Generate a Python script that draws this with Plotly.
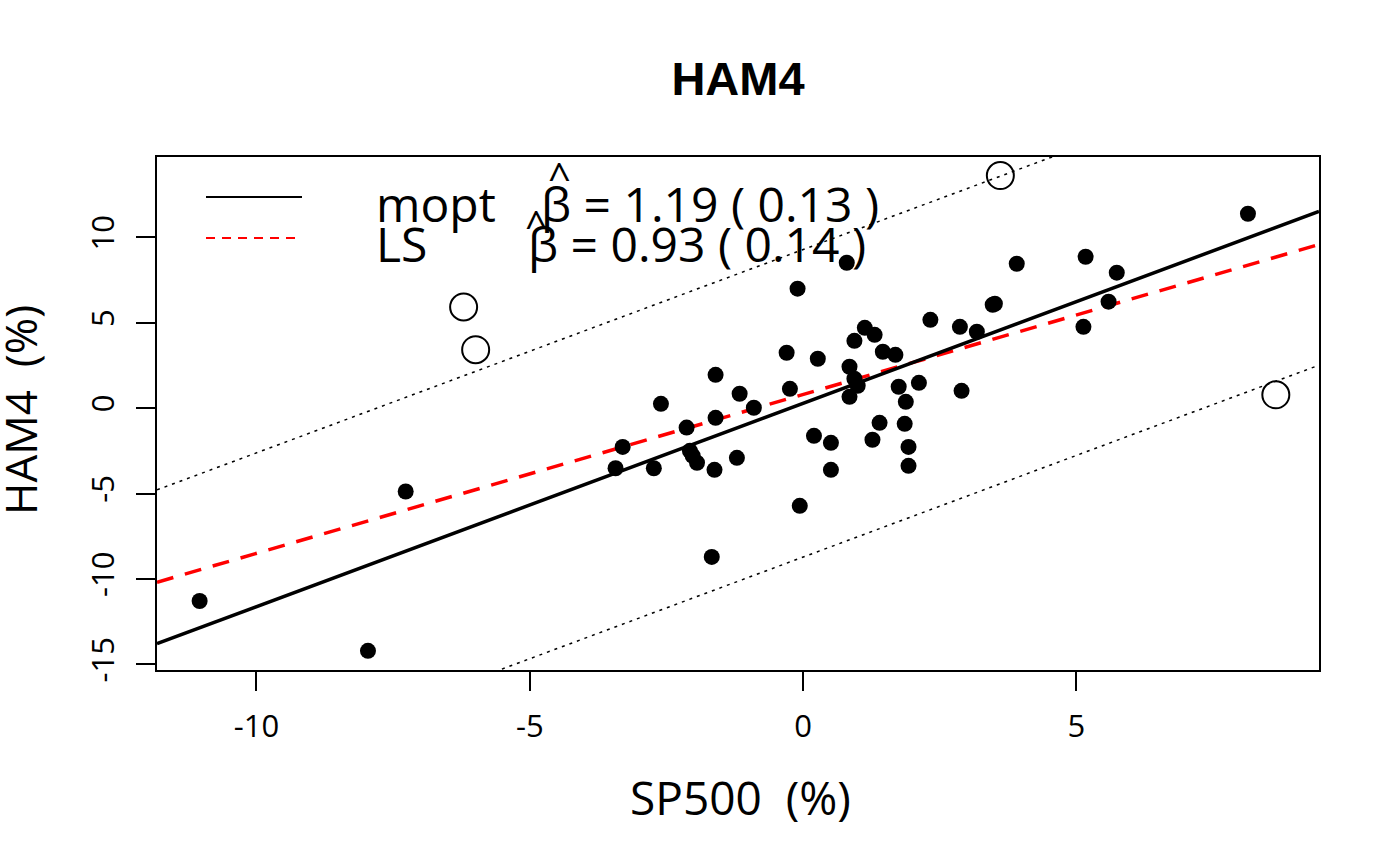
import plotly.graph_objects as go

# ---------------- data ----------------
sp500 = [-11.04, -7.96, -7.27, -3.43, -3.30, -2.60, -2.73, -2.13, -2.07, -2.02,
         -1.94, -1.62, -1.60, -1.60, -1.67, -1.16, -1.21, -0.90, -0.30, -0.24,
         -0.10, -0.06, 0.20, 0.27, 0.51, 0.51, 0.80, 0.85, 0.85, 0.94,
         1.00, 0.94, 1.13, 1.31, 1.46, 1.69, 1.27, 1.40, 1.75, 1.88,
         1.86, 1.93, 1.93, 2.12, 2.33, 2.90, 2.87, 3.18, 3.47, 3.51,
         3.91, 5.17, 5.74, 5.59, 5.13, 8.14]
ham4 = [-11.29, -14.21, -4.88, -3.52, -2.27, 0.25, -3.52, -1.14, -2.50, -2.79,
        -3.20, -3.61, -0.57, 1.95, -8.71, 0.84, -2.91, 0.02, 3.24, 1.13,
        6.99, -5.72, -1.62, 2.89, -2.03, -3.61, 8.51, 2.42, 0.66, 1.72,
        1.31, 3.94, 4.70, 4.29, 3.30, 3.12, -1.85, -0.86, 1.25, 0.37,
        -0.92, -2.27, -3.38, 1.48, 5.17, 1.01, 4.76, 4.47, 6.05, 6.11,
        8.45, 8.86, 7.93, 6.23, 4.76, 11.38]
out_sp500 = [-6.21, -5.99, 3.61, 8.65]
out_ham4 = [5.92, 3.42, 13.61, 0.78]

mopt_coef = [0.28, 1.19]    # intercept, slope
ls_coef = [0.80, 0.93]
band_half = 9.0

x_range = [-11.82, 9.44]
y_range = [-15.33, 14.70]
x_ticks = [-10, -5, 0, 5]
x_tick_labels = ["-10", "-5", "0", "5"]
y_ticks = [-15, -10, -5, 0, 5, 10]
y_tick_labels = ["-15", "-10", "-5", "0", "5", "10"]

legend_names = ["mopt", "LS"]
beta_text = ["β = 1.19 ( 0.13 )", "β = 0.93 ( 0.14 )"]

# ---------------- layout helpers ----------------
W, H = 1400, 866
L, R, T, B = 157, 81, 157, 196
PX0, PX1 = L, W - R
PY0, PY1 = T, H - B


def pxx(p):
    return (p - PX0) / (PX1 - PX0)


def pxy(p):
    return (PY1 - p) / (PY1 - PY0)


FONT = "Open Sans"
fig = go.Figure()

xl = list(x_range)


def line_y(coef, off=0.0):
    return [coef[0] + off + coef[1] * v for v in xl]


# dotted band lines
for off in (band_half, -band_half):
    fig.add_trace(go.Scatter(x=xl, y=line_y(mopt_coef, off), mode="lines",
                             line=dict(color="black", width=1.5, dash="3px,5px"),
                             hoverinfo="skip", showlegend=False))
# LS line
fig.add_trace(go.Scatter(x=xl, y=line_y(ls_coef), mode="lines",
                         line=dict(color="#FF0000", width=3.5, dash="17px,12px"),
                         showlegend=False))
# mopt line
fig.add_trace(go.Scatter(x=xl, y=line_y(mopt_coef), mode="lines",
                         line=dict(color="black", width=3.5), showlegend=False))
# points
fig.add_trace(go.Scatter(x=sp500, y=ham4, mode="markers",
                         marker=dict(color="black", size=16, line=dict(width=0)),
                         showlegend=False))
fig.add_trace(go.Scatter(x=out_sp500, y=out_ham4, mode="markers",
                         marker=dict(symbol="circle-open", color="black", size=27,
                                     line=dict(width=2, color="black")),
                         showlegend=False))

shapes = [
    dict(type="line", xref="paper", yref="paper", x0=pxx(206), x1=pxx(302),
         y0=pxy(197), y1=pxy(197), line=dict(color="black", width=2)),
    dict(type="line", xref="paper", yref="paper", x0=pxx(206), x1=pxx(302),
         y0=pxy(238), y1=pxy(238), line=dict(color="#FF0000", width=2, dash="9px,7px")),
]

LF = 48
annotations = []
for name, yb in zip(legend_names, [222, 262]):
    annotations.append(dict(text=name, xref="paper", yref="paper", x=pxx(374),
                            y=pxy(yb - 0.388 * LF), xanchor="left", yanchor="middle",
                            showarrow=False, font=dict(family=FONT, size=LF, color="black")))
for txt, xs, yb in zip(beta_text, [539, 526], [222, 262]):
    annotations.append(dict(text=txt, xref="paper", yref="paper", x=pxx(xs),
                            y=pxy(yb - 0.388 * LF), xanchor="left", yanchor="middle",
                            showarrow=False, font=dict(family=FONT, size=LF, color="black")))
for hx, hy in [(559, 176), (536, 224)]:
    annotations.append(dict(text="^", xref="paper", yref="paper", x=pxx(hx),
                            y=pxy(hy), xanchor="center", yanchor="middle",
                            showarrow=False, font=dict(family=FONT, size=40, color="black")))

annotations.append(dict(text="SP500\u00a0 (%)", xref="paper", yref="paper", x=pxx(740),
                        y=pxy(815 - 0.388 * 46), xanchor="center", yanchor="middle",
                        showarrow=False, font=dict(family=FONT, size=46, color="black")))
annotations.append(dict(text="HAM4\u00a0 (%)", xref="paper", yref="paper", x=pxx(20),
                        y=pxy(410), xanchor="center", yanchor="middle", textangle=-90,
                        showarrow=False, font=dict(family=FONT, size=44, color="black")))

axis_common = dict(showgrid=False, zeroline=False, showline=True, mirror=True,
                   linecolor="black", linewidth=1.5, ticks="outside", ticklen=19,
                   tickwidth=1.5, tickcolor="black",
                   tickfont=dict(family=FONT, size=31, color="black"))

fig.update_layout(
    width=W, height=H, autosize=False,
    margin=dict(l=L, r=R, t=T, b=B, pad=0),
    paper_bgcolor="white", plot_bgcolor="white",
    showlegend=False,
    title=dict(text="<b>HAM4</b>", x=0.5, xref="paper", xanchor="center",
               y=1 - 79 / H, yref="container", yanchor="middle",
               font=dict(family="Liberation Sans", size=47, color="black")),
    xaxis=dict(range=x_range, tickvals=x_ticks, ticktext=x_tick_labels,
               ticklabelstandoff=9, **axis_common),
    yaxis=dict(range=y_range, tickvals=y_ticks, ticktext=y_tick_labels,
               tickangle=-90, ticklabelstandoff=10, **axis_common),
    shapes=shapes, annotations=annotations,
)

fig.write_html("out.html", config={"displayModeBar": False},
               post_script="document.body.style.margin='0';document.body.style.overflow='hidden';")
